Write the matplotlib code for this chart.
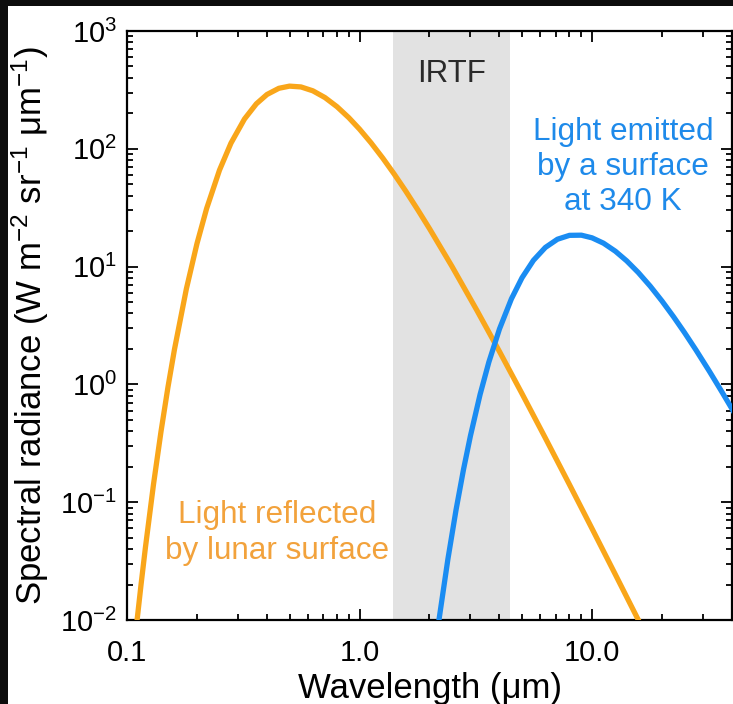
import matplotlib
matplotlib.use("Agg")
import matplotlib.pyplot as plt
from matplotlib.ticker import LogLocator, FixedLocator, FixedFormatter, NullFormatter
from matplotlib.patches import Rectangle

plt.rcParams['font.family'] = ['Liberation Sans', 'DejaVu Sans']
plt.rcParams['mathtext.fontset'] = 'custom'
plt.rcParams['mathtext.rm'] = 'Liberation Sans'
plt.rcParams['mathtext.it'] = 'Liberation Sans:italic'

# Sunlight reflected by the lunar surface (W m^-2 sr^-1 um^-1)
reflected_wavelength = [0.105, 0.11, 0.115, 0.12, 0.13, 0.14, 0.15, 0.16, 0.18, 0.20,
                        0.22, 0.25, 0.28, 0.32, 0.36, 0.40, 0.45, 0.50, 0.56, 0.63,
                        0.71, 0.80, 0.90, 1.0, 1.12, 1.26, 1.41, 1.58, 1.78, 2.0,
                        2.5, 3.2, 4.0, 5.0, 6.3, 8.0, 10.0, 12.6, 16.0, 17.0]
reflected_radiance = [0.00386, 0.00922, 0.0202, 0.0412, 0.1416, 0.3966, 0.946, 1.98, 6.46, 15.7,
                      31.1, 66.0, 111.7, 178.9, 240.9, 289.1, 326.3, 340.4, 335.1, 310.6,
                      272.3, 227.8, 183.5, 146.9, 112.6, 83.2, 61.0, 43.8, 30.4, 21.0,
                      10.02, 4.24, 1.90, 0.834, 0.3504, 0.1410, 0.0597, 0.02434, 0.00957, 0.00755]

# Thermal emission from a 340 K surface
emitted_wavelength = [2.1, 2.2, 2.4, 2.6, 2.8, 3.0, 3.3, 3.6, 4.0, 4.5,
                      5.0, 5.6, 6.3, 7.1, 8.0, 9.0, 10.0, 11.2, 12.6, 14.1,
                      15.8, 17.8, 20.0, 22.4, 25.0, 28.0, 32.0, 36.0, 40.0, 44.0]
emitted_radiance = [0.00517, 0.01023, 0.0329, 0.0856, 0.189, 0.366, 0.820, 1.546, 2.957, 5.318,
                    8.04, 11.31, 14.54, 17.07, 18.42, 18.48, 17.55, 15.81, 13.51, 11.18,
                    8.92, 6.82, 5.10, 3.76, 2.75, 1.958, 1.289, 0.879, 0.619, 0.447]

# IRTF wavelength coverage (um)
irtf_band = [1.4, 4.45]

x_major = [0.1, 1.0, 10.0]
x_major_labels = ['0.1', '1.0', '10.0']
y_major = [1e-2, 1e-1, 1e0, 1e1, 1e2, 1e3]
y_major_labels = [r'$\mathregular{10^{-2}}$', r'$\mathregular{10^{-1}}$', r'$\mathregular{10^{0}}$',
                  r'$\mathregular{10^{1}}$', r'$\mathregular{10^{2}}$', r'$\mathregular{10^{3}}$']

ORANGE = '#F9A61A'
ORANGE_TEXT = '#F2A23C'
BLUE = '#1A8CF2'
BLUE_TEXT = '#1E8AEA'

W, H = 733, 704
fig = plt.figure(figsize=(W / 100, H / 100), dpi=100, facecolor='white')

# dark frame along the top and left edges
fig.patches.append(Rectangle((0, 1 - 6 / H), 1, 6 / H, transform=fig.transFigure,
                             facecolor='#0d0d0d', edgecolor='none', zorder=0))
fig.patches.append(Rectangle((0, 0), 8 / W, 1, transform=fig.transFigure,
                             facecolor='#0d0d0d', edgecolor='none', zorder=0))

left, right, top, bottom = 127, 732, 31, 620
ax = fig.add_axes([left / W, 1 - bottom / H, (right - left) / W, (bottom - top) / H])

ax.set_xscale('log')
ax.set_yscale('log')
ax.set_xlim(0.1, 40)
ax.set_ylim(1e-2, 1e3)

ax.axvspan(irtf_band[0], irtf_band[1], color='#E2E2E2', lw=0, zorder=0)

ax.plot(reflected_wavelength, reflected_radiance, color=ORANGE, lw=3.8,
        solid_capstyle='butt', zorder=3)
ax.plot(emitted_wavelength, emitted_radiance, color=BLUE, lw=3.8,
        solid_capstyle='butt', zorder=4)

ax.xaxis.set_major_locator(FixedLocator(x_major))
ax.xaxis.set_major_formatter(FixedFormatter(x_major_labels))
ax.xaxis.set_minor_locator(LogLocator(base=10, subs=range(2, 10)))
ax.xaxis.set_minor_formatter(NullFormatter())
ax.yaxis.set_major_locator(FixedLocator(y_major))
ax.yaxis.set_major_formatter(FixedFormatter(y_major_labels))
ax.yaxis.set_minor_locator(LogLocator(base=10, subs=range(2, 10), numticks=20))
ax.yaxis.set_minor_formatter(NullFormatter())

ax.tick_params(which='both', direction='in', top=True, right=True, width=1.3, color='black')
ax.tick_params(which='major', length=8)
ax.tick_params(which='minor', length=4.5)
ax.tick_params(axis='x', which='major', labelsize=21, pad=14)
ax.tick_params(axis='y', which='major', labelsize=21, pad=7)
for s in ax.spines.values():
    s.set_linewidth(1.6)

ax.set_xlabel('Wavelength (μm)', fontsize=25, labelpad=3)
ax.set_ylabel(r'Spectral radiance (W m$^{\mathregular{-2}}$ sr$^{\mathregular{-1}}$ μm$^{\mathregular{-1}}$)',
              fontsize=25, labelpad=7)

def axfrac(px, py):
    return (px - left) / (right - left), (bottom - py) / (bottom - top)

ax.text(*axfrac(452, 74), 'IRTF', fontsize=22.5, color='#2a2a2a', ha='center', va='center',
        transform=ax.transAxes)
ax.text(*axfrac(623, 167), 'Light emitted\nby a surface\nat 340 K', fontsize=22.7, color=BLUE_TEXT,
        ha='center', va='center', linespacing=1.22, transform=ax.transAxes)
ax.text(*axfrac(277, 533), 'Light reflected\nby lunar surface', fontsize=22.7, color=ORANGE_TEXT,
        ha='center', va='center', linespacing=1.22, transform=ax.transAxes)

fig.savefig('out.png', dpi=100, facecolor=fig.get_facecolor())
